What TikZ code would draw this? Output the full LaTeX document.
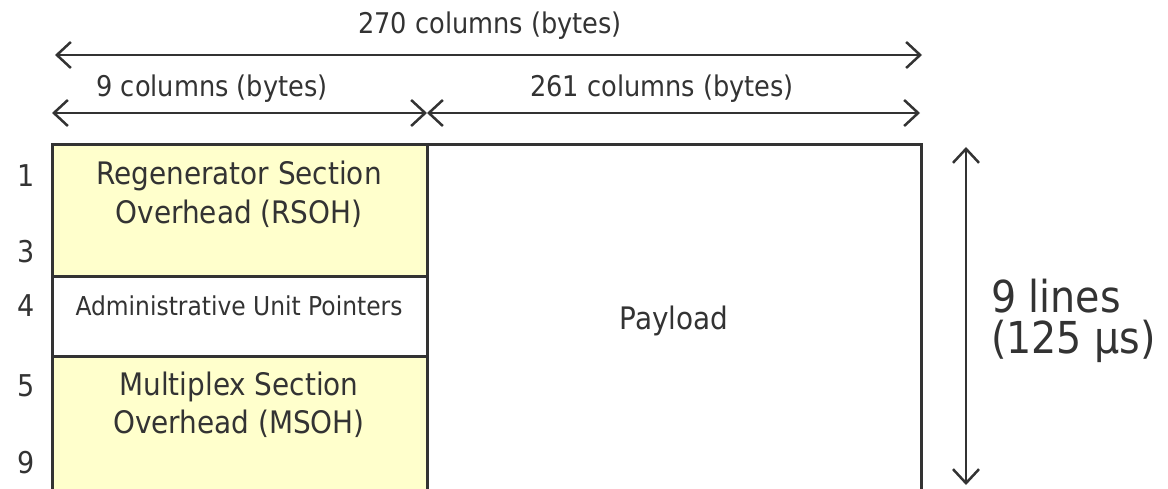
\documentclass[tikz,border=0pt]{standalone}
\usepackage{fontspec}
\setmainfont{DejaVu Sans Condensed}
\usetikzlibrary{arrows.meta}
\definecolor{ink}{HTML}{333333}
\definecolor{ohfill}{HTML}{FFFFCC}
\tikzset{
  frame/.style={draw=ink, line width=3pt},
  dim/.style={draw=ink, line width=2.5pt, {Straight Barb[length=14pt,width=26pt,line width=2.5pt]}-{Straight Barb[length=14pt,width=26pt,line width=2.5pt]}},
  lbl/.style={text=ink, inner sep=0pt, font=\fontsize{31}{36}\selectfont},
  toplbl/.style={text=ink, inner sep=0pt, font=\fontsize{28.5}{33}\selectfont},
  num/.style={text=ink, inner sep=0pt, font=\fontsize{30}{35}\selectfont},
  small/.style={text=ink, inner sep=0pt, font=\fontsize{26}{30}\selectfont},
  big/.style={text=ink, inner sep=0pt, font=\fontsize{44}{50}\selectfont, align=left},
}
\begin{document}
\begin{tikzpicture}[x=1pt,y=-1pt]
\useasboundingbox (0,0) rectangle (1168,489);
\clip (0,0) rectangle (1168,489);
% frame areas
\fill[ohfill] (52,145) rectangle (427,277);
\fill[ohfill] (52,356) rectangle (427,520);
\draw[frame] (52,520) -- (52,145) -- (921,145) -- (921,520);
\draw[frame] (427,145) -- (427,520);
\draw[frame] (52,277) -- (427,277);
\draw[frame] (52,356) -- (427,356);
% text nodes
\node[lbl] (rs1) at (239,176) {Regenerator Section};
\node[lbl] (rs2) at (239,214) {Overhead (RSOH)};
\node[small] (aup) at (239,306) {Administrative Unit Pointers};
\node[lbl] (ms1) at (239,387) {Multiplex Section};
\node[lbl] (ms2) at (239,424) {Overhead (MSOH)};
\node[lbl] (pay) at (674,321) {Payload};
% row numbers
\node[num] (r1) at (26,176) {1};
\node[num] (r3) at (26,252) {3};
\node[num] (r4) at (26,306) {4};
\node[num] (r5) at (26,386) {5};
\node[num] (r9) at (26,463) {9};
% dimension arrows
\coordinate (tL) at (55,55);
\coordinate (tR) at (922,55);
\coordinate (mL) at (52,113);
\coordinate (mM) at (427,113);
\coordinate (mR) at (920,113);
\coordinate (vT) at (966,147);
\coordinate (vB) at (966,485);
\draw[dim] (tL) -- (tR);
\draw[dim] (mL) -- (mM);
\draw[dim] (mM) -- (mR);
\draw[dim] (vT) -- (vB);
\node[toplbl] (l270) at (490,26) {270 columns (bytes)};
\node[toplbl] (l9) at (212,89) {9 columns (bytes)};
\node[toplbl] (l261) at (662,89) {261 columns (bytes)};
\node[big, anchor=west] (lines) at (991,296) {9 lines};
\node[big, anchor=west] (time) at (991,341) {(125 μs)};
\end{tikzpicture}
\end{document}
